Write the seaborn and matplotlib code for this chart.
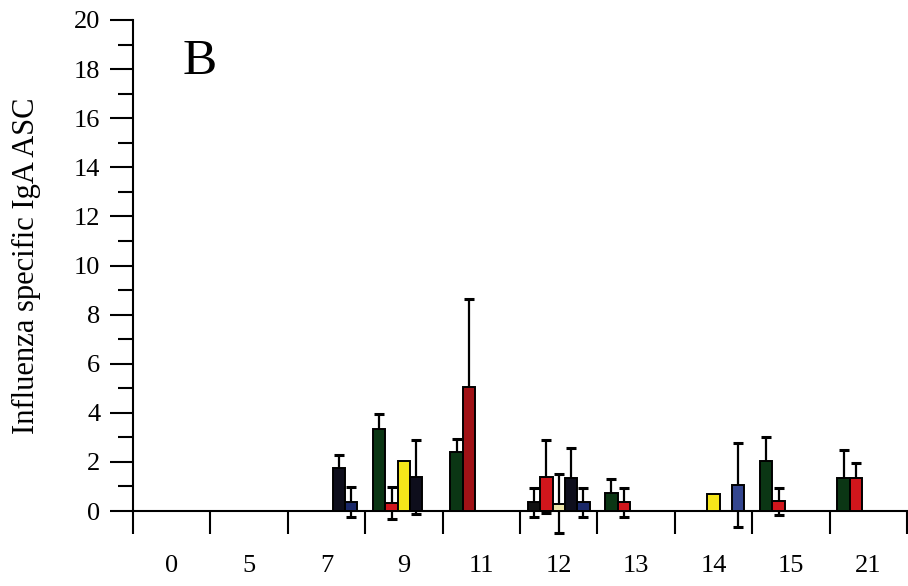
import numpy as np
import pandas as pd
import matplotlib
matplotlib.use("Agg")
import matplotlib.pyplot as plt
import seaborn as sns

# -------- Data --------
days = ["0", "5", "7", "9", "11", "12", "13", "14", "15", "21"]
series = ["green", "red", "yellow", "black", "blue"]

green_days = ["9", "11", "12", "13", "15", "21"]
green_mean = [3.35, 2.4, 0.35, 0.75, 2.05, 1.35]
green_sd = [0.6, 0.55, 0.6, 0.55, 0.95, 1.15]

red_days = ["9", "11", "12", "13", "15", "21"]
red_mean = [0.33, 5.05, 1.4, 0.35, 0.4, 1.35]
red_sd = [0.65, 3.6, 1.5, 0.6, 0.55, 0.6]

yellow_days = ["9", "12", "14"]
yellow_mean = [2.05, 0.3, 0.7]
yellow_sd = [0.0, 1.2, 0.0]

black_days = ["7", "9", "12"]
black_mean = [1.75, 1.38, 1.35]
black_sd = [0.53, 1.5, 1.2]

blue_days = ["7", "12", "14"]
blue_mean = [0.37, 0.35, 1.05]
blue_sd = [0.6, 0.6, 1.7]

colors = {"green": "#0b3614", "red": "#d0161c", "yellow": "#f6e61a",
          "black": "#0e0e1c", "blue": "#1a2868"}

# -------- Build long table --------
rows = []
for name, d, m, s in [("green", green_days, green_mean, green_sd),
                      ("red", red_days, red_mean, red_sd),
                      ("yellow", yellow_days, yellow_mean, yellow_sd),
                      ("black", black_days, black_mean, black_sd),
                      ("blue", blue_days, blue_mean, blue_sd)]:
    for day, mean, sd in zip(d, m, s):
        rows.append({"day": day, "series": name, "mean": mean, "sd": sd})
df = pd.DataFrame(rows)

# -------- Plot --------
sns.set_style("ticks", {"axes.edgecolor": "black", "text.color": "black",
                        "xtick.color": "black", "ytick.color": "black",
                        "axes.labelcolor": "black"})
plt.rcParams["font.family"] = ["Liberation Serif", "DejaVu Serif"]

fig = plt.figure(figsize=(9.08, 5.86), dpi=100)
ax = fig.add_axes([133 / 908, 1 - 511 / 586, 774 / 908, 491 / 586])

sns.barplot(data=df, x="day", y="mean", hue="series", order=days,
            hue_order=series, palette=colors, saturation=1, errorbar=None,
            width=0.8, edgecolor="black", linewidth=1.4, legend=False,
            ax=ax, zorder=3)

bar_containers = list(ax.containers)

# error bars, drawn behind the bars so only the top whisker shows above
for k, cont in enumerate(bar_containers):
    name = series[k]
    sub = df[df["series"] == name].set_index("day")
    for bar in cont:
        h = bar.get_height()
        if np.isnan(h):
            continue
        xc = bar.get_x() + bar.get_width() / 2
        day = days[int(round(xc))]
        if day not in sub.index:
            continue
        # a few bars are shaded differently in the original
        if name == "red" and day == "11":
            bar.set_facecolor("#a01216")
        if name == "green" and day == "12":
            bar.set_facecolor("#111111")
        if name == "yellow" and day == "12":
            bar.set_facecolor("#ece4a8")
        if name == "blue" and day == "14":
            bar.set_facecolor("#34468f")
        sd = sub.loc[day, "sd"]
        if sd <= 0:
            continue
        ax.errorbar(xc, h, yerr=sd, fmt="none", ecolor="black",
                    elinewidth=1.6, capsize=3.5, capthick=2.2,
                    zorder=2, clip_on=False)

ax.set_xlim(-0.5, len(days) - 0.5)
ax.set_ylim(0, 20)

# y axis ticks
ax.set_yticks(np.arange(0, 21, 2))
ax.set_yticks(np.arange(1, 20, 2), minor=True)
ax.tick_params(axis="y", which="major", length=16.5, width=1.5,
               labelsize=19, pad=7, direction="out")
ax.tick_params(axis="y", which="minor", length=11, width=1.5, direction="out")

# x axis: boundary ticks pointing down, labels centred under groups
ax.set_xticks(np.arange(-0.5, len(days), 1.0))
ax.set_xticklabels([])
ax.set_xticks(np.arange(len(days)), minor=True)
ax.set_xticklabels(days, minor=True)
ax.tick_params(axis="x", which="major", length=16.5, width=1.5, direction="out")
ax.tick_params(axis="x", which="minor", length=0, labelsize=19, pad=32)

for side in ["top", "right"]:
    ax.spines[side].set_visible(False)
ax.spines["left"].set_linewidth(1.5)
ax.spines["bottom"].set_linewidth(1.5)

ax.set_xlabel("")
ax.set_ylabel("Influenza specific IgA ASC", fontsize=22, labelpad=24)
fig.text(200 / 908, 1 - 62 / 586, "B", fontsize=37, ha="center", va="center")

fig.savefig("out.png", dpi=100)
